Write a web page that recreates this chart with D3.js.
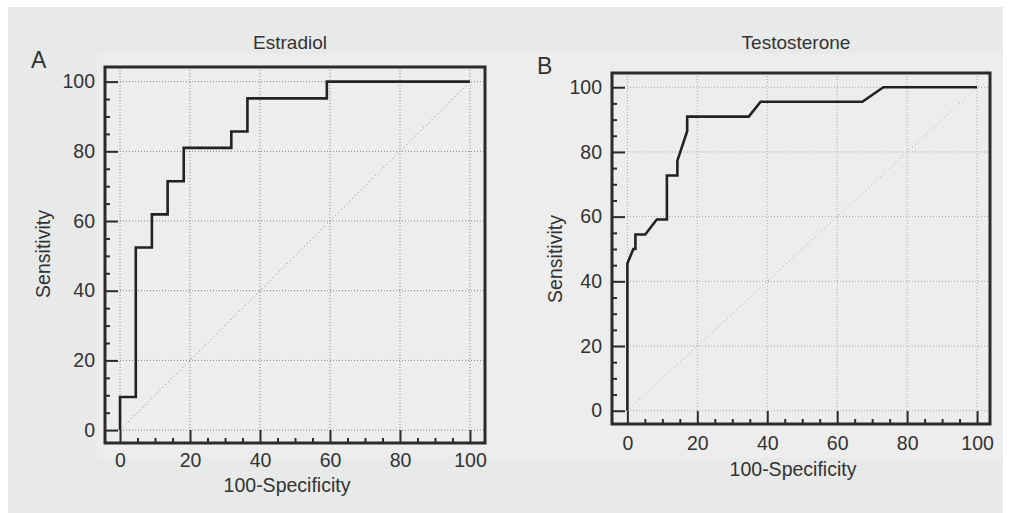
<!DOCTYPE html>
<html>
<head>
<meta charset="utf-8">
<script src="https://cdn.jsdelivr.net/npm/d3@7"></script>
<style>
  body { margin: 0; background: #fff; }
  svg { display: block; }
  text { font-family: "Liberation Sans", Arial, sans-serif; fill: #333; }
</style>
</head>
<body>
<svg id="chart" width="1011" height="513"></svg>
<script>
// ROC curve data (100-Specificity vs Sensitivity, %)
const estradiolFpr = [0, 0, 4.5, 4.5, 9.1, 9.1, 13.6, 13.6, 18.2, 18.2, 31.8, 31.8, 36.4, 36.4, 59.1, 59.1, 100];
const estradiolSens = [0, 9.5, 9.5, 52.4, 52.4, 61.9, 61.9, 71.4, 71.4, 81.0, 81.0, 85.7, 85.7, 95.2, 95.2, 100, 100];

const testosteroneFpr = [0, 0, 1.7, 2.3, 2.3, 5.1, 8.4, 11.3, 11.3, 14.3, 14.3, 17.1, 17.1, 34.7, 38.1, 67.2, 73.2, 100];
const testosteroneSens = [0, 45.5, 50, 50, 54.5, 54.5, 59.1, 59.1, 72.7, 72.7, 77.3, 86.4, 90.9, 90.9, 95.5, 95.5, 100, 100];

const majorTicks = [0, 20, 40, 60, 80, 100];
const minorTicks = [5, 10, 15, 25, 30, 35, 45, 50, 55, 65, 70, 75, 85, 90, 95];
const panelLetters = ['A', 'B'];
const panelTitles = ['Estradiol', 'Testosterone'];
const xLabel = '100-Specificity';
const yLabel = 'Sensitivity';

const svg = d3.select('#chart');

// page backgrounds
svg.append('rect').attr('x', 8).attr('y', 7).attr('width', 995).attr('height', 506)
    .attr('fill', '#e8e9e9');
svg.append('rect').attr('x', 97).attr('y', 54).attr('width', 906).attr('height', 404)
    .attr('fill', '#ecedec');

const panels = [
  {
    fpr: estradiolFpr, sens: estradiolSens,
    left: 105, top: 67, right: 485, bottom: 443,
    xDomain: [-4.3, 104.3], yDomain: [-3.7, 104.2],
    grid: '#858585', xPad: 10,
    titleX: 290, letterX: 31, letterY: 68,
    xLabelY: 492, yLabelX: 50, yLabelY: 254,
  },
  {
    fpr: testosteroneFpr, sens: testosteroneSens,
    left: 612, top: 73, right: 990, bottom: 424,
    xDomain: [-4.4, 103.7], yDomain: [-4.1, 104.4],
    grid: '#a8a8a8', xPad: 12,
    titleX: 796, letterX: 537, letterY: 74,
    xLabelY: 476, yLabelX: 562, yLabelY: 259,
  },
];

panels.forEach((p, i) => {
  const x = d3.scaleLinear().domain(p.xDomain).range([p.left, p.right]);
  const y = d3.scaleLinear().domain(p.yDomain).range([p.bottom, p.top]);
  const g = svg.append('g');

  // dotted grid at the labelled ticks
  g.append('g').selectAll('line').data(majorTicks).join('line')
      .attr('x1', p.left).attr('x2', p.right)
      .attr('y1', (d) => y(d)).attr('y2', (d) => y(d))
      .attr('stroke', p.grid).attr('stroke-width', 1)
      .attr('stroke-dasharray', '1,2');
  g.append('g').selectAll('line').data(majorTicks).join('line')
      .attr('y1', p.top).attr('y2', p.bottom)
      .attr('x1', (d) => x(d)).attr('x2', (d) => x(d))
      .attr('stroke', p.grid).attr('stroke-width', 1)
      .attr('stroke-dasharray', '1,2');

  // reference diagonal
  g.append('line')
      .attr('x1', x(0)).attr('y1', y(0)).attr('x2', x(100)).attr('y2', y(100))
      .attr('stroke', p.grid).attr('stroke-width', 1)
      .attr('stroke-dasharray', '1,3');

  // ticks pointing into the plot
  g.append('g').attr('transform', `translate(${p.left},0)`)
      .call(d3.axisLeft(y).tickValues(majorTicks).tickSize(-13).tickPadding(10));
  g.append('g').attr('transform', `translate(${p.left},0)`)
      .call(d3.axisLeft(y).tickValues(minorTicks).tickSize(-5).tickFormat(''));
  g.append('g').attr('transform', `translate(0,${p.bottom})`)
      .call(d3.axisBottom(x).tickValues(majorTicks).tickSize(-13).tickPadding(p.xPad));
  g.append('g').attr('transform', `translate(0,${p.bottom})`)
      .call(d3.axisBottom(x).tickValues(minorTicks).tickSize(-5).tickFormat(''));
  g.selectAll('.domain').remove();
  g.selectAll('.tick line').attr('stroke', '#2b2b2b').attr('stroke-width', 2);
  g.selectAll('.tick text').style('font-size', '19.5px')
      .style('font-family', '"Liberation Sans", Arial, sans-serif').attr('fill', '#333');

  // ROC curve
  const line = d3.line().x((d) => x(d[0])).y((d) => y(d[1]));
  g.append('path')
      .datum(d3.zip(p.fpr, p.sens))
      .attr('d', line)
      .attr('fill', 'none')
      .attr('stroke', '#222')
      .attr('stroke-width', 2.6)
      .attr('stroke-linejoin', 'miter');

  // frame
  g.append('rect')
      .attr('x', p.left).attr('y', p.top)
      .attr('width', p.right - p.left).attr('height', p.bottom - p.top)
      .attr('fill', 'none').attr('stroke', '#2b2b2b').attr('stroke-width', 3);

  // texts
  g.append('text').attr('x', p.titleX).attr('y', 49)
      .attr('text-anchor', 'middle').style('font-size', '19px')
      .text(panelTitles[i]);
  g.append('text').attr('x', p.letterX).attr('y', p.letterY)
      .style('font-size', '23px').text(panelLetters[i]);
  g.append('text').attr('x', (p.left + p.right) / 2 - 8).attr('y', p.xLabelY)
      .attr('text-anchor', 'middle').style('font-size', '19.5px')
      .text(xLabel);
  g.append('text')
      .attr('transform', `translate(${p.yLabelX},${p.yLabelY}) rotate(-90)`)
      .attr('text-anchor', 'middle').style('font-size', '19.5px')
      .text(yLabel);
});
</script>
</body>
</html>
